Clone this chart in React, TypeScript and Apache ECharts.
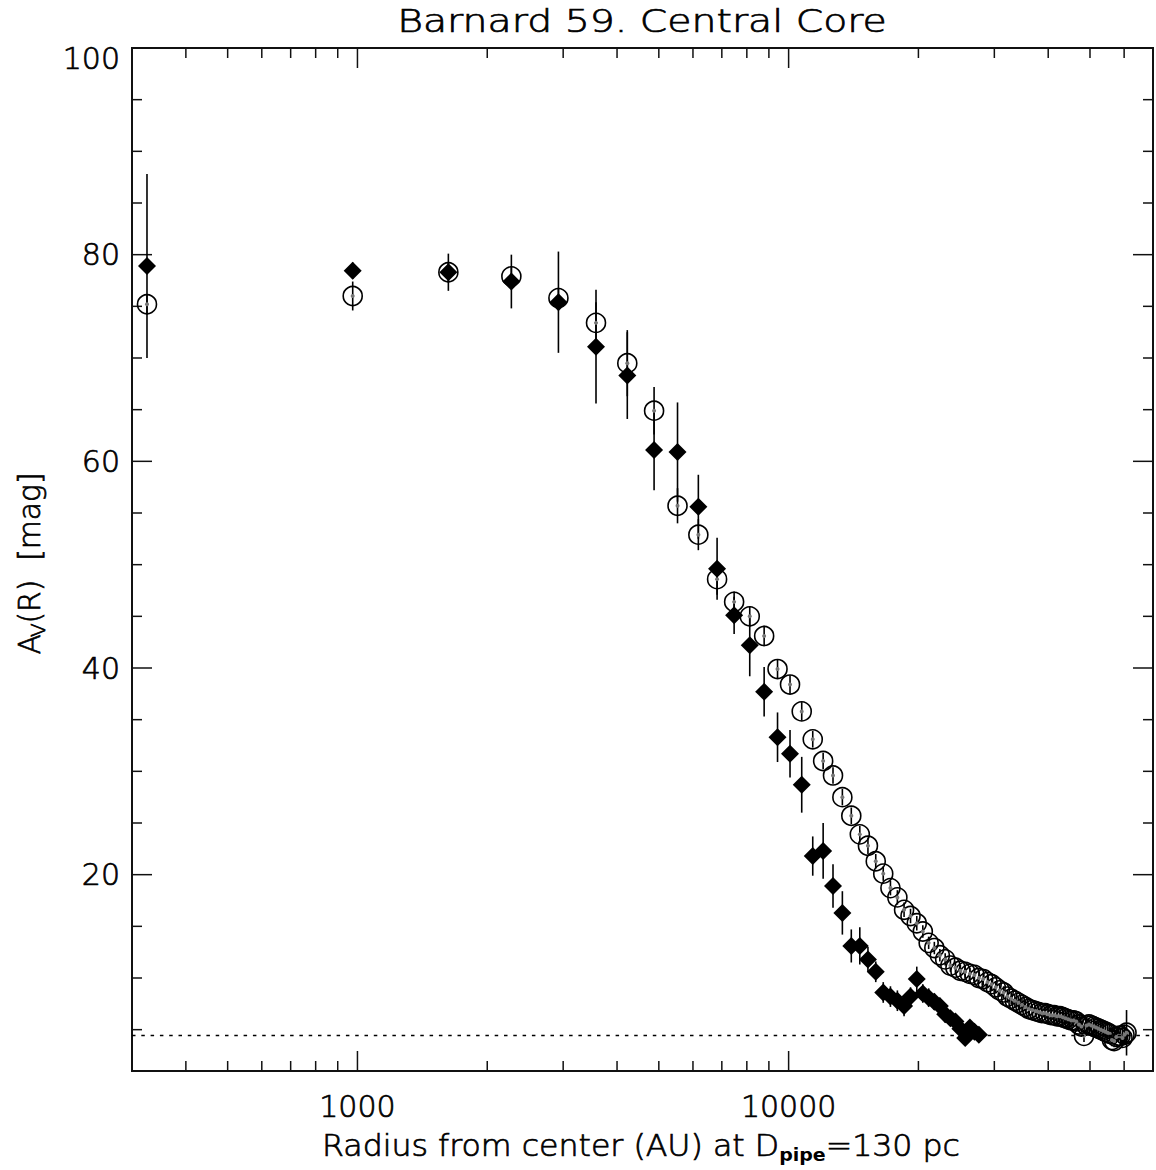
import React, { useEffect, useRef } from "react";
import * as echarts from "echarts";

// ---------------- data ----------------
const titleText = "Barnard 59. Central Core";
const xTitleMain = "Radius from center (AU) at D";
const xTitleSub = "pipe";
const xTitleRest = "=130 pc";

// radii of the annuli (AU)
const radiusAU = [
  325, 975, 1625, 2275, 2925, 3575, 4225, 4875, 5525, 6175,
  6825, 7475, 8125, 8775, 9425, 10075, 10725, 11375, 12025, 12675,
  13325, 13975, 14625, 15275, 15925, 16575, 17225, 17875, 18525, 19175,
  19825, 20475, 21125, 21775, 22425, 23075, 23725, 24375, 25025, 25675,
  26325, 26975, 27625, 28275, 28925, 29575, 30225, 30875, 31525, 32175,
  32825, 33475, 34125, 34775, 35425, 36075, 36725, 37375, 38025, 38675,
  39325, 39975, 40625, 41275, 41925, 42575, 43225, 43875, 44525, 45175,
  45825, 46475, 47125, 47775, 48425, 49075, 49725, 50375, 51025, 51675,
  52325, 52975, 53625, 54275, 54925, 55575, 56225, 56875, 57525, 58175,
  58825, 59475, 60125, 60775,
];

// open circles: A_V (mag)
const circleAv = [
  75.2, 76.0, 78.3, 77.9, 75.8, 73.4, 69.5, 64.9, 55.7, 52.9,
  48.6, 46.4, 45.0, 43.1, 39.9, 38.4, 35.8, 33.1, 31.0, 29.6,
  27.5, 25.7, 23.9, 22.8, 21.3, 20.1, 18.7, 17.8, 16.6, 16.0,
  15.3, 14.5, 13.4, 12.9, 12.2, 11.8, 11.2, 11.0, 10.7, 10.6,
  10.4, 10.3, 10.0, 9.9, 9.6, 9.4, 9.1, 8.8, 8.6, 8.2,
  8.0, 7.8, 7.6, 7.4, 7.2, 7.0, 6.9, 6.8, 6.7, 6.6,
  6.6, 6.5, 6.4, 6.4, 6.3, 6.3, 6.2, 6.1, 6.0, 5.9,
  5.9, 5.8, 5.5, 5.3, 4.4, 5.4, 5.5, 5.4, 5.3, 5.2,
  5.1, 5.0, 4.9, 4.8, 4.7, 4.6, 4.0, 3.9, 4.3, 4.4,
  4.4, 4.2, 4.5, 4.7,
];
const circleErr = [
  1.0, 1.4, 1.0, 1.0, 1.0, 2.0, 3.2, 2.3, 1.7, 1.5,
  1.5, 1.0, 1.0, 1.0, 0.9, 0.9, 0.9, 0.8, 0.8, 0.8,
  0.8, 0.8, 0.8, 0.8, 0.7, 0.7, 0.7, 0.7, 0.7, 0.7,
  0.7, 0.6, 0.6, 0.6, 0.6, 0.6, 0.6, 0.6, 0.6, 0.6,
  0.6, 0.6, 0.6, 0.6, 0.6, 0.6, 0.6, 0.6, 0.6, 0.6,
  0.6, 0.6, 0.6, 0.6, 0.6, 0.6, 0.6, 0.6, 0.6, 0.6,
  0.6, 0.6, 0.6, 0.6, 0.6, 0.6, 0.6, 0.6, 0.6, 0.6,
  0.6, 0.6, 0.6, 0.6, 0.6, 0.6, 0.6, 0.6, 0.6, 0.6,
  0.6, 0.6, 0.6, 0.6, 0.6, 0.6, 0.6, 0.6, 0.6, 0.6,
  0.7, 0.8, 1.0, 2.2,
];

// filled diamonds: A_V (mag)
const diamondAv = [
  78.9, 78.45, 78.3, 77.4, 75.4, 71.1, 68.3, 61.1, 60.9, 55.6,
  49.6, 45.1, 42.2, 37.7, 33.3, 31.7, 28.7, 21.8, 22.3, 18.9,
  16.3, 13.1, 13.1, 11.8, 10.6, 8.6, 8.2, 7.8, 7.3, 8.2,
  9.9, 8.5, 8.1, 7.7, 7.3, 6.5, 6.1, 5.8, 5.1, 4.2,
  5.2, 4.8, 4.5,
];
const diamondErr = [
  8.9, 0.8, 1.8, 2.6, 4.9, 5.5, 4.2, 3.9, 4.8, 3.1,
  3.0, 1.8, 3.0, 2.4, 2.4, 2.3, 2.7, 1.9, 2.7, 2.1,
  2.1, 1.6, 1.8, 1.2, 1.0, 1.0, 1.0, 1.0, 1.0, 0.9,
  1.2, 0.9, 0.9, 0.8, 0.8, 0.8, 0.7, 0.7, 0.7, 0.7,
  0.7, 0.6, 0.6,
];

const backgroundLevel = 4.5;

// axes
const xRange = [300, 70000];
const yRange = [1, 100];
const xMajorTicks = [1000, 10000];
const xMinorTicks = [400, 500, 600, 700, 800, 900, 2000, 3000, 4000, 5000, 6000, 7000, 8000, 9000, 20000, 30000, 40000, 50000, 60000];
const yMajorTicks = [20, 40, 60, 80, 100];
const yMinorTicks = [5, 10, 15, 25, 30, 35, 45, 50, 55, 65, 70, 75, 85, 90, 95];

const FONT = '"DejaVu Sans", "Liberation Sans", sans-serif';
const WEIGHT = 300;
const TXT_STROKE = 0.7;

function measure(text: string, font: string): number {
  const c = document.createElement("canvas").getContext("2d");
  if (!c) return text.length * 15;
  c.font = font;
  return c.measureText(text).width;
}

export default function App() {
  const ref = useRef<HTMLDivElement>(null);

  useEffect(() => {
    if (!ref.current) return;
    const chart = echarts.init(ref.current, null, { renderer: "svg" });

    const MAJOR = 20;
    const MINOR = 10;
    const tickData: number[][] = [];
    xMajorTicks.forEach((v) => {
      tickData.push([v, yRange[0], 0, MAJOR]);
      tickData.push([v, yRange[1], 1, MAJOR]);
    });
    xMinorTicks.forEach((v) => {
      tickData.push([v, yRange[0], 0, MINOR]);
      tickData.push([v, yRange[1], 1, MINOR]);
    });
    yMajorTicks.forEach((v) => {
      tickData.push([xRange[0], v, 2, MAJOR]);
      tickData.push([xRange[1], v, 3, MAJOR]);
    });
    yMinorTicks.forEach((v) => {
      tickData.push([xRange[0], v, 2, MINOR]);
      tickData.push([xRange[1], v, 3, MINOR]);
    });

    const circlePts = radiusAU.map((r, i) => [r, circleAv[i]]);
    const circleBars = radiusAU.map((r, i) => [r, circleAv[i] - circleErr[i], circleAv[i] + circleErr[i]]);
    const diamondPts = diamondAv.map((v, i) => [radiusAU[i], v]);
    const diamondBars = diamondAv.map((v, i) => [radiusAU[i], v - diamondErr[i], v + diamondErr[i]]);

    const errRender = (params: any, api: any) => {
      const x = api.value(0);
      const p1 = api.coord([x, api.value(1)]);
      const p2 = api.coord([x, api.value(2)]);
      return {
        type: "line",
        shape: { x1: p1[0], y1: p1[1], x2: p2[0], y2: p2[1] },
        style: { stroke: "#000", lineWidth: 1.6 },
      };
    };

    // text layout
    const bigFont = `${WEIGHT} 30px ${FONT}`;
    const titleFont = `${WEIGHT} 32px ${FONT}`;
    const titleW = measure(titleText, titleFont);
    const titleScale = 490 / titleW;

    const w1 = measure(xTitleMain, bigFont);
    const w2 = measure(xTitleSub, `bold 18px ${FONT}`);
    const w3 = measure(xTitleRest, bigFont);
    const xScale = 638 / (w1 + w2 + w3);

    const a1 = measure("A", bigFont);
    const a2 = measure("V", `${WEIGHT} 20px ${FONT}`);
    const a3 = measure("(R)  [mag]", bigFont);
    const yTot = a1 + a2 + a3;
    const yScale = 185 / yTot;

    const txt = (text: string, x: number, y: number, size: number, extra: any = {}) => ({
      type: "text",
      x,
      y,
      style: {
        text,
        fontSize: size,
        fontFamily: FONT,
        fontWeight: WEIGHT,
        fill: "#000",
        stroke: "#000",
        lineWidth: TXT_STROKE,
        align: "left",
        verticalAlign: "middle",
        ...extra,
      },
    });

    const labelStyle = {
      fontSize: 30,
      fontFamily: FONT,
      fontWeight: WEIGHT,
      color: "#000",
      textBorderColor: "#000",
      textBorderWidth: TXT_STROKE,
    };

    const option: any = {
      animation: false,
      backgroundColor: "#fff",
      grid: {
        left: 132,
        top: 48,
        right: 2,
        bottom: 99,
        show: true,
        borderColor: "#111",
        borderWidth: 2,
        backgroundColor: "transparent",
      },
      xAxis: {
        type: "log",
        logBase: 10,
        min: xRange[0],
        max: xRange[1],
        axisLine: { show: false },
        axisTick: { show: false },
        minorTick: { show: false },
        splitLine: { show: false },
        axisLabel: {
          ...labelStyle,
          margin: 20,
          formatter: (v: number) => {
            const l = Math.log10(v);
            const r = Math.round(l);
            if (Math.abs(l - r) < 1e-6 && xMajorTicks.indexOf(Math.round(Math.pow(10, r))) >= 0) {
              return String(Math.round(Math.pow(10, r)));
            }
            return "";
          },
        },
      },
      yAxis: {
        type: "value",
        min: yRange[0],
        max: yRange[1],
        axisLine: { show: false },
        axisTick: { show: false },
        splitLine: { show: false },
        axisLabel: {
          ...labelStyle,
          margin: 12,
          formatter: (v: number) => {
            if (v === 100) return "{t|100}";
            return yMajorTicks.indexOf(v) >= 0 ? String(v) : "";
          },
          rich: {
            t: { ...labelStyle, padding: [20, 0, 0, 0] },
          },
        },
      },
      graphic: [
        {
          type: "text",
          x: 642,
          y: 21,
          scaleX: titleScale,
          style: {
            text: titleText,
            fontSize: 32,
            fontFamily: FONT,
            fontWeight: WEIGHT,
            fill: "#000",
            stroke: "#000",
            lineWidth: TXT_STROKE,
            align: "center",
            verticalAlign: "middle",
          },
        },
        {
          type: "group",
          x: 322,
          y: 1145,
          scaleX: xScale,
          children: [
            txt(xTitleMain, 0, 0, 30),
            txt(xTitleSub, w1, 10, 18, { fontWeight: "bold", lineWidth: 0 }),
            txt(xTitleRest, w1 + w2, 0, 30),
          ],
        },
        {
          type: "group",
          x: 29,
          y: 562,
          rotation: Math.PI / 2,
          scaleX: yScale,
          children: [
            txt("A", -yTot / 2, 0, 30),
            txt("V", -yTot / 2 + a1 - 3, 9, 20),
            txt("(R)  [mag]", -yTot / 2 + a1 + a2 - 3, 0, 30),
          ],
        },
      ],
      series: [
        {
          type: "custom",
          name: "ticks",
          z: 1,
          silent: true,
          data: tickData,
          encode: { x: 0, y: 1 },
          renderItem: (params: any, api: any) => {
            const p = api.coord([api.value(0), api.value(1)]);
            const side = api.value(2);
            const len = api.value(3);
            let x2 = p[0];
            let y2 = p[1];
            if (side === 0) y2 = p[1] - len;
            else if (side === 1) y2 = p[1] + len;
            else if (side === 2) x2 = p[0] + len;
            else x2 = p[0] - len;
            return {
              type: "line",
              shape: { x1: p[0], y1: p[1], x2, y2 },
              style: { stroke: "#111", lineWidth: 1.5 },
            };
          },
        },
        {
          type: "custom",
          name: "circle errors",
          z: 2,
          silent: true,
          data: circleBars,
          encode: { x: 0, y: [1, 2] },
          renderItem: errRender,
        },
        {
          type: "custom",
          name: "diamond errors",
          z: 2,
          silent: true,
          data: diamondBars,
          encode: { x: 0, y: [1, 2] },
          renderItem: errRender,
        },
        {
          type: "scatter",
          name: "circles",
          z: 3,
          symbol: "circle",
          symbolSize: 19,
          data: circlePts,
          itemStyle: { color: "rgba(0,0,0,0)", borderColor: "#000", borderWidth: 1.6, opacity: 1 },
        },
        {
          type: "scatter",
          name: "centres",
          z: 4,
          symbol: "circle",
          symbolSize: 4,
          data: circlePts,
          itemStyle: { color: "#777", opacity: 1 },
        },
        {
          type: "scatter",
          name: "diamonds",
          z: 5,
          symbol: "diamond",
          symbolSize: 18,
          data: diamondPts,
          itemStyle: { color: "#000", opacity: 1 },
          markLine: {
            silent: true,
            symbol: ["none", "none"],
            label: { show: false },
            lineStyle: { color: "#000", width: 1.3, type: [3.5, 5.8] },
            data: [{ yAxis: backgroundLevel }],
          },
        },
      ],
    };

    chart.setOption(option);
    return () => chart.dispose();
  }, []);

  return (
    <div
      ref={ref}
      style={{ position: "fixed", left: 0, top: 0, width: 1156, height: 1170, background: "#fff" }}
    />
  );
}
